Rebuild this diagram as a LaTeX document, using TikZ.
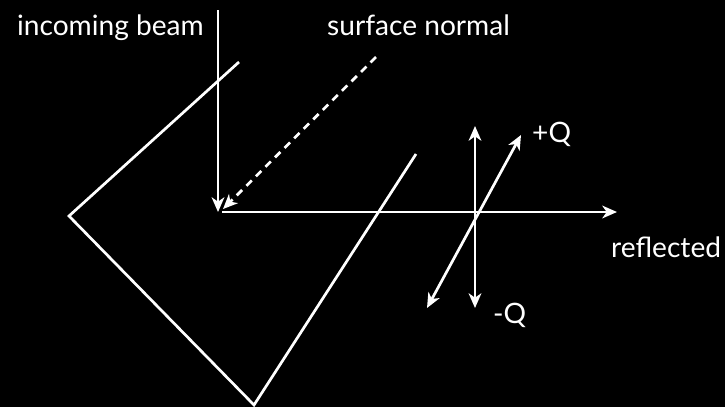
\documentclass[tikz,border=0pt]{standalone}
\usepackage{fontspec}
\setmainfont{Lato}
\usetikzlibrary{arrows.meta,positioning}
\tikzset{
  >={Stealth[length=4.4mm,width=3.8mm,inset=1.3mm]},
  beam/.style={white, line width=2.3pt},
  normal/.style={white, line width=2.3pt, dash pattern=on 6.5pt off 5pt},
  lbl/.style={white, font=\fontsize{24}{28}\selectfont, inner sep=0pt},
}
\begin{document}
\begin{tikzpicture}[x=0.03cm,y=-0.03cm]

  % background
  \fill[black] (0,0) rectangle (725,407);
  \useasboundingbox (0,0) rectangle (725,407);

  % crystal outline
  \coordinate (ctop) at (239,62);
  \coordinate (cleft) at (69,216);
  \coordinate (cbot) at (254,405);
  \coordinate (cright) at (416,154);
  \draw[beam, line join=miter] (ctop) -- (cleft) -- (cbot) -- (cright);

  % beams
  \coordinate (src) at (218,10);
  \coordinate (spot) at (218,212);
  \coordinate (nrm) at (376,57);
  \coordinate (nspot) at (223,209);
  \coordinate (refl) at (617,212);
  \draw[beam, ->] (src) -- (spot);
  \draw[normal, ->] (nrm) -- (nspot);
  \draw[beam, ->, shorten <=1.2mm] (spot) -- (refl);

  % momentum transfer
  \coordinate (qup) at (475,126);
  \coordinate (qdown) at (475,308);
  \coordinate (qplus) at (521,135);
  \coordinate (qminus) at (427,308);
  \draw[beam, <->] (qdown) -- (qup);
  \draw[beam, <->] (qminus) -- (qplus);

  % labels
  \node[lbl, anchor=base east] (incoming) at (204,35) {incoming beam};
  \node[lbl, anchor=base west] (surfnorm) at (327,35) {surface normal};
  \node[lbl, anchor=base west] (plusq) at (532,142) {+Q};
  \node[lbl, anchor=base west] (reflected) at (611,257) {reflected};
  \node[lbl, anchor=base west] (minusq) at (493,323) {-Q};

\end{tikzpicture}
\end{document}
